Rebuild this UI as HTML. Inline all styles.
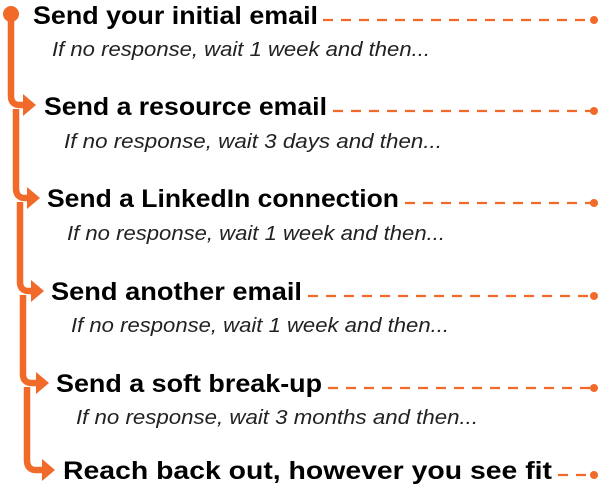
<!DOCTYPE html>
<html><head><meta charset="utf-8"><style>
html,body{margin:0;padding:0;background:#fff;}
svg{display:block;}
.t{font-family:"Liberation Sans",sans-serif;font-weight:bold;font-size:25px;fill:#000;}
.s{font-family:"Liberation Sans",sans-serif;font-style:italic;font-size:20px;fill:#222;}
.d{stroke:#f26a2a;stroke-width:2.2;stroke-dasharray:10 8;fill:none;}
</style></head><body>
<svg width="600" height="488" viewBox="0 0 600 488">
<circle cx="11" cy="14" r="8" fill="#f26a2a"/>
<g fill="none" stroke-linecap="butt">
<path d="M11 14 V96 Q11 105 20 105 H26" stroke="#f26a2a" stroke-width="6.5"/>
<path d="M16 109 V188 Q16 198 25 198 H29" stroke="#fff" stroke-width="9.5"/>
<path d="M16 109 V188 Q16 198 25 198 H29" stroke="#f26a2a" stroke-width="6.5"/>
<path d="M20 202 V282 Q20 291 29 291 H33" stroke="#fff" stroke-width="9.5"/>
<path d="M20 202 V282 Q20 291 29 291 H33" stroke="#f26a2a" stroke-width="6.5"/>
<path d="M23 295 V374 Q23 383 32 383 H38" stroke="#fff" stroke-width="9.5"/>
<path d="M23 295 V374 Q23 383 32 383 H38" stroke="#f26a2a" stroke-width="6.5"/>
<path d="M27 387 V460 Q27 470 36 470 H44" stroke="#fff" stroke-width="9.5"/>
<path d="M27 387 V460 Q27 470 36 470 H44" stroke="#f26a2a" stroke-width="6.5"/>
</g>
<g fill="#f26a2a">
<polygon points="23,94 36,105 23,116"/>
<polygon points="27,187 40,198 27,209"/>
<polygon points="31,280 44,291 31,302"/>
<polygon points="36,372 49,383 36,394"/>
<polygon points="42,459 55,470 42,481"/>
</g>
<text class="t" x="33" y="24" textLength="285" lengthAdjust="spacingAndGlyphs">Send your initial email</text>
<text class="s" x="52" y="56" textLength="378" lengthAdjust="spacingAndGlyphs">If no response, wait 1 week and then...</text>
<text class="t" x="44" y="115" textLength="283" lengthAdjust="spacingAndGlyphs">Send a resource email</text>
<text class="s" x="64" y="148" textLength="378" lengthAdjust="spacingAndGlyphs">If no response, wait 3 days and then...</text>
<text class="t" x="47" y="207" textLength="352" lengthAdjust="spacingAndGlyphs">Send a LinkedIn connection</text>
<text class="s" x="67" y="240" textLength="378" lengthAdjust="spacingAndGlyphs">If no response, wait 1 week and then...</text>
<text class="t" x="51" y="300" textLength="251" lengthAdjust="spacingAndGlyphs">Send another email</text>
<text class="s" x="71" y="332" textLength="378" lengthAdjust="spacingAndGlyphs">If no response, wait 1 week and then...</text>
<text class="t" x="56" y="392" textLength="266" lengthAdjust="spacingAndGlyphs">Send a soft break-up</text>
<text class="s" x="76" y="424" textLength="402" lengthAdjust="spacingAndGlyphs">If no response, wait 3 months and then...</text>
<text class="t" x="63" y="479" textLength="489" lengthAdjust="spacingAndGlyphs">Reach back out, however you see fit</text>
<path class="d" d="M323 20 H594"/>
<path class="d" d="M333 111 H594"/>
<path class="d" d="M405 203 H594"/>
<path class="d" d="M308 296 H594"/>
<path class="d" d="M328 388 H594"/>
<path class="d" d="M558 475 H594"/>
<g fill="#f26a2a">
<circle cx="594" cy="20" r="4"/><circle cx="594" cy="111" r="4"/><circle cx="594" cy="203" r="4"/>
<circle cx="594" cy="296" r="4"/><circle cx="594" cy="388" r="4"/><circle cx="594" cy="475" r="4"/>
</g>
</svg>
</body></html>
